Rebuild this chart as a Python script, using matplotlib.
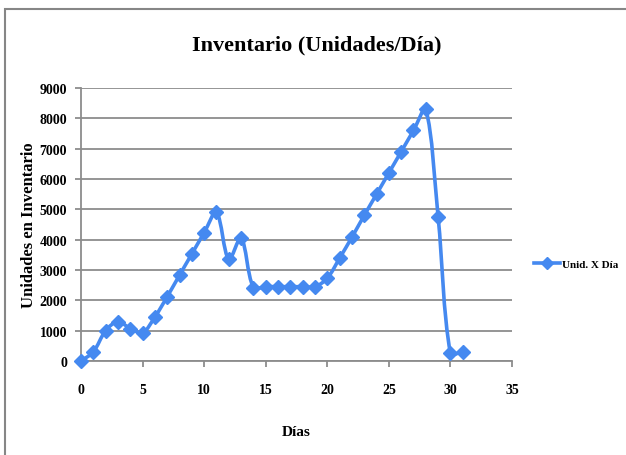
import matplotlib
matplotlib.use('Agg')
import matplotlib.pyplot as plt
import numpy as np
from matplotlib.path import Path
from matplotlib.patches import PathPatch, Rectangle
from matplotlib.lines import Line2D

dias = list(range(32))
unidades = [0, 300, 1000, 1300, 1070, 930, 1450, 2120, 2830, 3530,
            4230, 4900, 3350, 4050, 2420, 2450, 2450, 2450, 2450, 2450,
            2730, 3390, 4080, 4800, 5500, 6200, 6900, 7600, 8300, 4750,
            250, 300]

x_ticks = [0, 5, 10, 15, 20, 25, 30, 35]
y_ticks = [0, 1000, 2000, 3000, 4000, 5000, 6000, 7000, 8000, 9000]

azul = '#4589F0'
gris = '#8C8C8C'
serif = ['Liberation Serif', 'DejaVu Serif']

fig = plt.figure(figsize=(6.26, 4.56), dpi=100)
ax = fig.add_axes([81 / 626, 1 - 362 / 456, 431 / 626, 273 / 456])

ax.set_xlim(0, 35)
ax.set_ylim(0, 9000)
ax.set_xticks(x_ticks)
ax.set_yticks(y_ticks)
ax.yaxis.grid(True, color=gris, linewidth=1.3)
ax.set_axisbelow(True)
for s in ['top', 'right']:
    ax.spines[s].set_visible(False)
for s in ['left', 'bottom']:
    ax.spines[s].set_color(gris)
    ax.spines[s].set_linewidth(1.3)
ax.tick_params(axis='both', color=gris, length=4, width=1.3)
ax.tick_params(axis='y', pad=6)
ax.tick_params(axis='x', pad=12)
for lab in ax.get_xticklabels() + ax.get_yticklabels():
    lab.set_fontfamily(serif)
    lab.set_fontweight('bold')
    lab.set_fontsize(10)

# smoothed line (Excel-style bezier), control points computed in pixel space
pts = ax.transData.transform(np.column_stack([dias, unidades]))
n = len(pts)
verts = [pts[0]]
codes = [Path.MOVETO]
for i in range(n - 1):
    p0 = pts[max(i - 1, 0)]
    p1 = pts[i]
    p2 = pts[i + 1]
    p3 = pts[min(i + 2, n - 1)]
    d01 = np.hypot(*(p1 - p0))
    d12 = np.hypot(*(p2 - p1))
    d23 = np.hypot(*(p3 - p2))
    f1 = d12 / (d01 + d12) / 3 if d01 + d12 > 0 else 0
    f2 = d12 / (d12 + d23) / 3 if d12 + d23 > 0 else 0
    c1 = p1 + (p2 - p0) * f1
    c2 = p2 - (p3 - p1) * f2
    verts += [c1, c2, p2]
    codes += [Path.CURVE4] * 3
verts = ax.transData.inverted().transform(np.array(verts))
ax.add_patch(PathPatch(Path(verts, codes), fill=False, edgecolor=azul,
                       linewidth=2.6, clip_on=False, zorder=3))
ax.plot(dias, unidades, linestyle='none', marker='D', markersize=7,
        color=azul, clip_on=False, zorder=4)

ax.set_xlabel('Días', fontfamily=serif, fontweight='bold', fontsize=11)
ax.xaxis.set_label_coords(0.5, -0.235)
ax.set_ylabel('Unidades en Inventario', fontfamily=serif, fontweight='bold',
              fontsize=12)
ax.yaxis.set_label_coords(-(81 - 37) / 431, 0.5)

fig.text(317 / 626, 1 - 45 / 456, 'Inventario (Unidades/Día)',
         fontfamily=serif, fontweight='bold', fontsize=16,
         ha='center', va='center')

handle = Line2D([], [], color=azul, linewidth=2.6, marker='D', markersize=6)
fig.legend([handle], ['Unid. X Día'], loc='center left',
           bbox_to_anchor=(534 / 626, 1 - 265 / 456), frameon=False,
           prop={'family': serif, 'weight': 'bold', 'size': 8},
           handlelength=2.3, handletextpad=0.2, borderpad=0,
           borderaxespad=0)

fig.patches.append(Rectangle((5 / 626, -0.05), 1.1, 1 - 9.5 / 456 + 0.05,
                             transform=fig.transFigure, fill=False,
                             edgecolor='#868686', linewidth=1.5))

fig.savefig('out.png', dpi=100)
